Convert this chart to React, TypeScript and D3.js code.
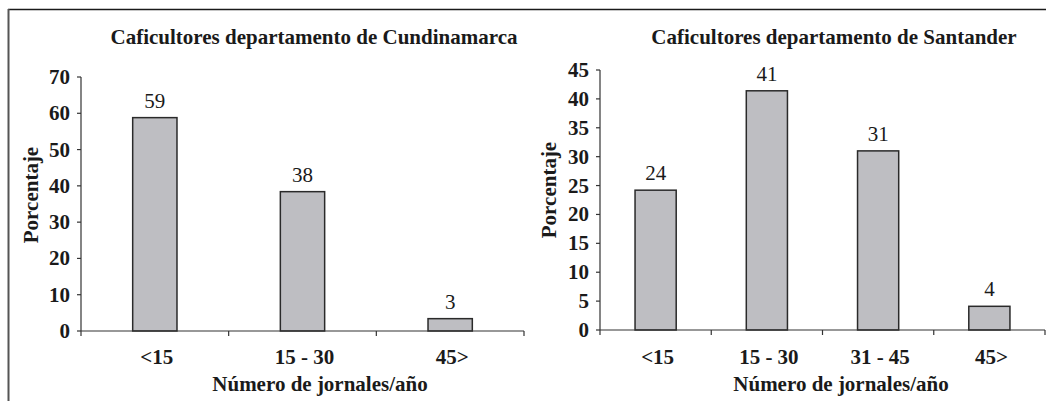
import React from "react";
import * as d3 from "d3";

const leftTitle = "Caficultores departamento de Cundinamarca";
const leftCategories = ["<15", "15 - 30", "45>"];
const leftValues = [58.8, 38.4, 3.4];
const leftTicks = [0, 10, 20, 30, 40, 50, 60, 70];

const rightTitle = "Caficultores departamento de Santander";
const rightCategories = ["<15", "15 - 30", "31 - 45", "45>"];
const rightValues = [24.2, 41.4, 31.0, 4.1];
const rightTicks = [0, 5, 10, 15, 20, 25, 30, 35, 40, 45];

const yLabel = "Porcentaje";
const xLabel = "Número de jornales/año";

const FAM = "Liberation Serif";

type PanelProps = {
  title: string;
  categories: string[];
  values: number[];
  ticks: number[];
  max: number;
  x0: number;
  x1: number;
  yTop: number;
  yBottom: number;
  barRatio: number;
  titleX: number;
  xLabelX: number;
  yLabelX: number;
  yLabelY: number;
};

function Panel(p: PanelProps) {
  const x = d3.scaleBand<string>().domain(p.categories).range([p.x0, p.x1]).padding(0);
  const y = d3.scaleLinear().domain([0, p.max]).range([p.yBottom, p.yTop]);
  const bw = x.bandwidth() * p.barRatio;
  const boundaries = [...p.categories.map((c) => x(c) as number), p.x1];
  const axisColor = "#333";
  const ts = { fontFamily: `"${FAM}"` };
  return (
    <g>
      <text style={ts} fill="#1a1a1a" x={p.titleX} y={44} textAnchor="middle" fontWeight="bold" fontSize={21}>
        {p.title}
      </text>
      {p.categories.map((c, i) => {
        const cx = (x(c) as number) + x.bandwidth() / 2;
        return (
          <g key={c}>
            <rect
              x={cx - bw / 2}
              y={y(p.values[i])}
              width={bw}
              height={p.yBottom - y(p.values[i])}
              fill="#bebec2"
              stroke="#2a2a2a"
              strokeWidth={1.5}
            />
            <text style={ts} fill="#1a1a1a" x={cx} y={y(p.values[i]) - 10} textAnchor="middle" fontSize={21}>
              {Math.round(p.values[i])}
            </text>
            <text style={ts} fill="#1a1a1a" x={cx + 2} y={364} textAnchor="middle" fontWeight="bold" fontSize={21}>
              {c}
            </text>
          </g>
        );
      })}
      <line x1={p.x0} x2={p.x0} y1={p.yTop} y2={p.yBottom} stroke={axisColor} strokeWidth={1.2} />
      {p.ticks.map((t) => (
        <g key={t}>
          <line x1={p.x0 - 4} x2={p.x0} y1={y(t)} y2={y(t)} stroke={axisColor} strokeWidth={1.2} />
          <text style={ts} fill="#1a1a1a" x={p.x0 - 11} y={y(t) + 7} textAnchor="end" fontWeight="bold" fontSize={21}>
            {t}
          </text>
        </g>
      ))}
      <line x1={p.x0} x2={p.x1} y1={p.yBottom} y2={p.yBottom} stroke={axisColor} strokeWidth={1.2} />
      {boundaries.map((b, i) => (
        <line key={i} x1={b} x2={b} y1={p.yBottom} y2={p.yBottom + 5} stroke={axisColor} strokeWidth={1.2} />
      ))}
      <text style={ts} fill="#1a1a1a" x={p.xLabelX} y={391} textAnchor="middle" fontWeight="bold" fontSize={21}>
        {xLabel}
      </text>
      <text
        style={ts}
        fill="#1a1a1a"
        transform={`translate(${p.yLabelX + 7},${p.yLabelY}) rotate(-90)`}
        textAnchor="middle"
        fontWeight="bold"
        fontSize={21}
      >
        {yLabel}
      </text>
    </g>
  );
}

export default function App() {
  return (
    <svg
      width={1046}
      height={401}
      style={{ position: "absolute", left: 0, top: 0, background: "#fff" }}
    >
      <line x1={8} x2={1046} y1={9.5} y2={9.5} stroke="#1a1a1a" strokeWidth={1.5} />
      <line x1={8.5} x2={8.5} y1={9} y2={401} stroke="#555" strokeWidth={2} />
      <Panel
        title={leftTitle}
        categories={leftCategories}
        values={leftValues}
        ticks={leftTicks}
        max={70}
        x0={81}
        x1={524}
        yTop={77}
        yBottom={331}
        barRatio={0.3}
        titleX={314}
        xLabelX={320}
        yLabelX={31}
        yLabelY={195}
      />
      <Panel
        title={rightTitle}
        categories={rightCategories}
        values={rightValues}
        ticks={rightTicks}
        max={45}
        x0={600}
        x1={1045}
        yTop={70}
        yBottom={330}
        barRatio={0.37}
        titleX={834}
        xLabelX={841}
        yLabelX={549}
        yLabelY={190}
      />
    </svg>
  );
}
